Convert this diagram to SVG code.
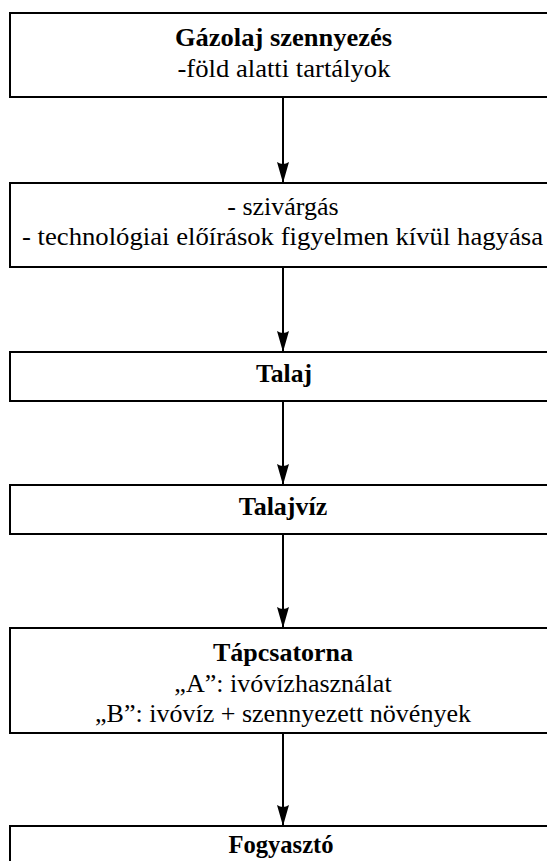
<svg xmlns="http://www.w3.org/2000/svg" width="547" height="861" viewBox="0 0 547 861">
<style>
.box{fill:#fff;stroke:#000;stroke-width:2}
.t{font-family:'Liberation Serif','DejaVu Serif','Times New Roman',serif;font-size:26px;fill:#000;text-anchor:middle}
.b{font-weight:bold}
.c{stroke:#000;stroke-width:2;fill:none}
</style>
<defs>
<marker id="ah" markerUnits="userSpaceOnUse" markerWidth="22" markerHeight="14" refX="21" refY="7" orient="auto" viewBox="0 0 22 14">
<path d="M0,1 L21,7 L0,13 Q4,7 0,1 Z" fill="#000"/>
</marker>
</defs>
<rect x="0" y="0" width="547" height="861" fill="#fff"/>
<g id="connectors">
<line class="c" x1="283" y1="97" x2="283" y2="183" marker-end="url(#ah)"/>
<line class="c" x1="283" y1="267" x2="283" y2="352" marker-end="url(#ah)"/>
<line class="c" x1="283" y1="401" x2="283" y2="485" marker-end="url(#ah)"/>
<line class="c" x1="283" y1="534" x2="283" y2="628" marker-end="url(#ah)"/>
<line class="c" x1="283" y1="733" x2="283" y2="826" marker-end="url(#ah)"/>
</g>
<g id="n1">
<rect class="box" x="10" y="13" width="546" height="84"/>
<text class="t b" x="283.5" y="46" textLength="217" lengthAdjust="spacingAndGlyphs">Gázolaj szennyezés</text>
<text class="t" x="284" y="77" textLength="213" lengthAdjust="spacingAndGlyphs">-föld alatti tartályok</text>
</g>
<g id="n2">
<rect class="box" x="10" y="183" width="546" height="84"/>
<text class="t" x="283" y="215">- szivárgás</text>
<text class="t" x="282.5" y="245" textLength="521" lengthAdjust="spacingAndGlyphs">- technológiai előírások figyelmen kívül hagyása</text>
</g>
<g id="n3">
<rect class="box" x="10" y="352" width="546" height="49"/>
<text class="t b" x="284" y="382" textLength="56" lengthAdjust="spacingAndGlyphs">Talaj</text>
</g>
<g id="n4">
<rect class="box" x="10" y="485" width="546" height="49"/>
<text class="t b" x="283" y="515">Talajvíz</text>
</g>
<g id="n5">
<rect class="box" x="10" y="628" width="546" height="105"/>
<text class="t b" x="283" y="661">Tápcsatorna</text>
<text class="t" x="283" y="692">„A”: ivóvízhasználat</text>
<text class="t" x="283" y="722" textLength="376" lengthAdjust="spacingAndGlyphs">„B”: ivóvíz + szennyezett növények</text>
</g>
<g id="n6">
<rect class="box" x="10" y="826" width="546" height="60"/>
<text class="t b" x="281" y="853" textLength="105" lengthAdjust="spacingAndGlyphs">Fogyasztó</text>
</g>
</svg>
